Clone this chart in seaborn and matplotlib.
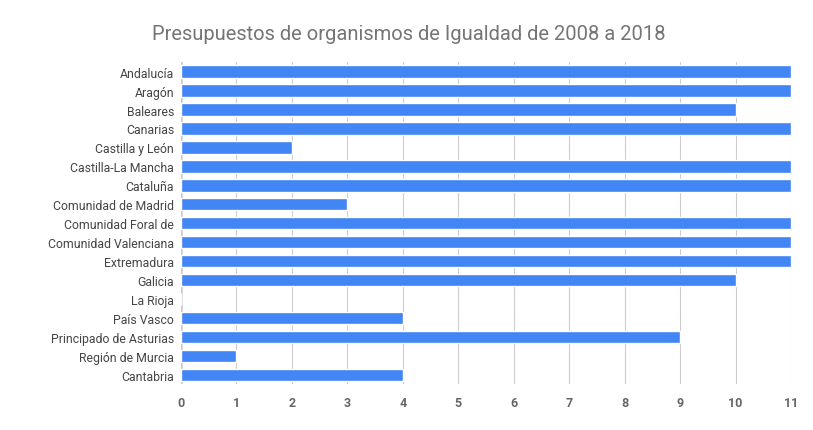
import pandas as pd
import matplotlib.pyplot as plt
import seaborn as sns

regions = ["Andalucía", "Aragón", "Baleares", "Canarias", "Castilla y León",
           "Castilla-La Mancha", "Cataluña", "Comunidad de Madrid", "Comunidad Foral de",
           "Comunidad Valenciana", "Extremadura", "Galicia", "La Rioja", "País Vasco",
           "Principado de Asturias", "Región de Murcia", "Cantabria"]
values = [11, 11, 10, 11, 2, 11, 11, 3, 11, 11, 11, 10, 0, 4, 9, 1, 4]

df = pd.DataFrame({"region": regions, "value": values})

sns.set_style("white")
plt.rcParams["font.family"] = ["Roboto", "DejaVu Sans"]

fig = plt.figure(figsize=(8.13, 4.31), dpi=100)
ax = fig.add_axes([0.2226, 0.1056, 0.7504, 0.748])
sns.barplot(data=df, x="value", y="region", color="#4285F4", saturation=1,
            width=0.65, ax=ax)

ax.set_xlim(0, 11)
ax.set_xticks(range(12))
ax.grid(axis="x", color="#cccccc", linewidth=0.8)
ax.set_axisbelow(True)
for s in ax.spines.values():
    s.set_visible(False)
ax.axvline(0, color="#333333", linewidth=1, zorder=0)
ax.set_xlabel("")
ax.set_ylabel("")
ax.tick_params(axis="y", length=0, pad=5, labelsize=8.8, labelcolor="#444444")
ax.tick_params(axis="x", length=0, pad=8, labelsize=9, labelcolor="#666666")
for t in ax.get_xticklabels():
    t.set_fontweight("bold")

fig.text(152 / 813, 1 - 35 / 431, "Presupuestos de organismos de Igualdad de 2008 a 2018",
         fontsize=14.5, color="#757575", va="center", ha="left")

fig.savefig("out.png", dpi=100)
